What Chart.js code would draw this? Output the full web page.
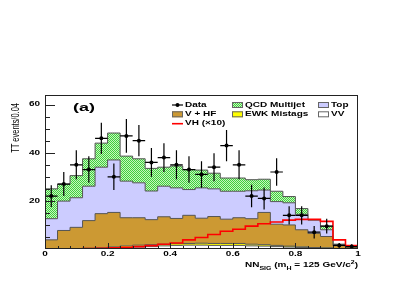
<!DOCTYPE html>
<html>
<head>
<meta charset="utf-8">
<script src="https://cdn.jsdelivr.net/npm/chart.js@4.4.0/dist/chart.umd.min.js"></script>
<style>
  html, body { margin: 0; padding: 0; background: #fff; }
  #wrap { width: 407px; height: 300px; }
</style>
</head>
<body>
<div id="wrap"><canvas id="c" width="407" height="300"></canvas></div>
<script>
'use strict';

// NN_SIG output, TT tag category, 25 bins of 0.04 (low edges)
const binLow = [0, 0.04, 0.08, 0.12, 0.16, 0.2, 0.24, 0.28, 0.32, 0.36, 0.4, 0.44, 0.48,
                0.52, 0.56, 0.6, 0.64, 0.68, 0.72, 0.76, 0.8, 0.84, 0.88, 0.92, 0.96];
const binWidth = 0.04;

// background components, bottom of the stack first
const vv    = [0, 0, 0, 0, 0.1, 0.3, 0.5, 0.8, 1.0, 1.3, 1.5, 1.6, 1.6, 1.5, 1.5, 1.5, 1.3, 1.2, 1.0, 0.8, 0.6, 0.4, 0.3, 0.1, 0.1];
const ewk   = [0.1, 0.2, 0.2, 0.3, 0.4, 0.6, 0.8, 0.8, 0.8, 0.7, 0.7, 0.7, 0.8, 0.8, 0.8, 0.8, 0.7, 0.6, 0.5, 0.4, 0.3, 0.2, 0.2, 0.1, 0.1];
const vhf   = [3.7, 7.5, 8.8, 11.5, 14.2, 14.3, 11.7, 11.4, 10.4, 11.4, 10.5, 11.7, 10.4, 11.2, 10.1, 10.7, 10.6, 13.4, 8.8, 8.8, 7.1, 5.9, 4.7, 1.2, 0.6];
const topq  = [8.8, 12.2, 12.3, 14.3, 19.3, 21.8, 15.2, 14.5, 11.9, 12.7, 12.7, 10.7, 12.6, 11.5, 11.6, 11.0, 11.6, 9.3, 9.4, 9.2, 6.4, 5.5, 2.8, 0.5, 0.3];
const qcd   = [12.4, 7.1, 9.2, 11.4, 10.0, 11.2, 10.4, 10.0, 9.4, 7.9, 9.1, 8.3, 7.4, 6.5, 5.5, 5.5, 4.6, 4.5, 4.3, 2.6, 2.4, 0, 1.5, 0.1, 0.1];

// VH signal scaled by 10
const vhx10 = [0, 0, 0.1, 0.2, 0.3, 0.5, 0.7, 1.0, 1.4, 2.0, 2.5, 3.8, 4.8, 6.0, 7.4, 8.2, 9.5, 10.5, 11.2, 12.0, 12.3, 12.3, 11.5, 3.8, 1.4];

// observed data and its uncertainty
const dataCounts = [22, 27, 35, 33, 46, 30, 47, 45, 36, 38, 35, 33, 31, 34, 43, 35, 22, 21, 32, 14, 14, 7, 9.5, 1.5, 1];
const dataErr    = [4.5, 5, 6, 5.5, 6.5, 5.5, 7, 6.5, 6, 6, 6, 5.5, 5.5, 5.8, 6.5, 6, 4.7, 4.6, 5.7, 3.8, 3.8, 2.6, 3.1, 1, 1];

const xTickLabels = ['0', '0.2', '0.4', '0.6', '0.8', '1'];
const yTickLabels = ['20', '40', '60'];

const $ = (id) => document.getElementById(id);
const ctx0 = $('c').getContext('2d');

// QCD gets the green checker fill
function makeChecker() {
  const c = document.createElement('canvas');
  c.width = 2; c.height = 2;
  const g = c.getContext('2d');
  g.fillStyle = '#c6f5bc'; g.fillRect(0, 0, 2, 2);
  g.fillStyle = '#3fcf3f'; g.fillRect(0, 0, 1, 1); g.fillRect(1, 1, 1, 1);
  return ctx0.createPattern(c, 'repeat');
}
const qcdFill = makeChecker();

// histogram as left-edge points plus closing point at the right edge
function steps(vals) {
  const pts = binLow.map((x, i) => ({ x, y: vals[i] }));
  pts.push({ x: binLow[binLow.length - 1] + binWidth, y: vals[vals.length - 1] });
  return pts;
}

function bkg(label, vals, fillStyle, fill) {
  return {
    label, data: steps(vals), stack: 'bkg', stepped: 'before', fill,
    backgroundColor: fillStyle, borderColor: '#555', borderWidth: 1, pointRadius: 0,
  };
}

const datasets = [
  { label: 'Data', data: binLow.map((x, i) => ({ x: x + binWidth / 2, y: dataCounts[i] })),
    stack: 'data', showLine: false, pointRadius: 2, pointBackgroundColor: '#000', pointBorderColor: '#000', borderWidth: 0 },
  { label: 'VH (\u00d710)', data: steps(vhx10), stack: 'sig', stepped: 'before', fill: false,
    borderColor: '#ff0000', borderWidth: 1.6, pointRadius: 0 },
  bkg('VV', vv, '#ffffff', 'origin'),
  bkg('EWK Mistags', ewk, '#ffff00', '-1'),
  bkg('V + HF', vhf, '#cc9933', '-1'),
  bkg('Top', topq, '#ccccff', '-1'),
  bkg('QCD Multijet', qcd, qcdFill, '-1'),
];

// text squeezed vertically like the reference
function sq(ctx, str, x, y, font, align, base) {
  ctx.save();
  ctx.translate(x, y);
  ctx.scale(1, 0.65);
  ctx.font = font;
  ctx.textAlign = align || 'left';
  ctx.textBaseline = base || 'middle';
  ctx.fillStyle = '#000';
  ctx.fillText(str, 0, 0);
  ctx.restore();
}

const decor = {
  id: 'decor',
  afterDatasetsDraw(chart) {
    const { ctx, chartArea: a, scales: { x, y } } = chart;

    // error bars
    ctx.save();
    ctx.beginPath(); ctx.rect(a.left, a.top, a.right - a.left, a.bottom - a.top); ctx.clip();
    ctx.strokeStyle = '#000'; ctx.lineWidth = 1.2;
    dataCounts.forEach((v, i) => {
      const cx = x.getPixelForValue(binLow[i] + binWidth / 2);
      const py = y.getPixelForValue(v);
      ctx.beginPath();
      ctx.moveTo(cx, y.getPixelForValue(v - dataErr[i]));
      ctx.lineTo(cx, y.getPixelForValue(v + dataErr[i]));
      ctx.moveTo(x.getPixelForValue(binLow[i]), py);
      ctx.lineTo(x.getPixelForValue(binLow[i] + binWidth), py);
      ctx.stroke();
    });
    ctx.restore();

    // frame and inward ticks
    ctx.save();
    ctx.strokeStyle = '#222'; ctx.lineWidth = 1;
    ctx.strokeRect(a.left + 0.5, a.top + 0.5, a.right - a.left - 1, a.bottom - a.top - 1);
    ctx.beginPath();
    for (let v = 5; v < y.max; v += 5) {
      const py = Math.round(y.getPixelForValue(v)) + 0.5;
      ctx.moveTo(a.left, py); ctx.lineTo(a.left + (v % 20 === 0 ? 10 : 5), py);
    }
    for (let k = 1; k < 25; k++) {
      const px = Math.round(x.getPixelForValue(k * 0.04)) + 0.5;
      ctx.moveTo(px, a.bottom); ctx.lineTo(px, a.bottom - (k % 5 === 0 ? 6 : 3));
    }
    ctx.stroke();
    ctx.restore();

    // tick labels
    const tf = 'bold 10px "Liberation Sans", Arial, sans-serif';
    xTickLabels.forEach(t => sq(ctx, t, x.getPixelForValue(parseFloat(t)), a.bottom + 5, tf, 'center'));
    yTickLabels.forEach(t => sq(ctx, t, a.left - 5, y.getPixelForValue(parseFloat(t)), tf, 'right'));

    // x title with sub/superscripts, right aligned to the frame
    const big = 'bold 10px "Liberation Sans", Arial, sans-serif';
    const small = 'bold 7px "Liberation Sans", Arial, sans-serif';
    const parts = [
      { t: 'NN', f: big, dy: 0 }, { t: 'SIG', f: small, dy: 4 }, { t: ' (m', f: big, dy: 0 },
      { t: 'H', f: small, dy: 5 }, { t: ' = 125 GeV/c', f: big, dy: 0 }, { t: '2', f: small, dy: -5 },
      { t: ')', f: big, dy: 0 },
    ];
    let w = 0;
    parts.forEach(p => { ctx.font = p.f; p.w = ctx.measureText(p.t).width; w += p.w; });
    let cx = a.right - w;
    parts.forEach(p => { sq(ctx, p.t, cx, 267 + p.dy * 0.65, p.f, 'left', 'alphabetic'); cx += p.w; });

    // y title, reads upward, ends at the top
    ctx.save();
    ctx.translate(19, 103);
    ctx.scale(1, 0.65);
    ctx.rotate(-Math.PI / 2);
    ctx.font = '11.5px "Liberation Sans", Arial, sans-serif';
    ctx.textAlign = 'right'; ctx.textBaseline = 'alphabetic'; ctx.fillStyle = '#000';
    ctx.fillText('TT events/0.04', 0, 0);
    ctx.restore();

    sq(ctx, '(a)', 73, 108, 'bold 18px "Liberation Sans", Arial, sans-serif', 'left');

    // legend, three columns
    const ds = chart.data.datasets;
    const cols = [172, 232, 318], rows = [105, 114.3, 123.7];
    const slots = [[0, 0, 0], [6, 1, 0], [5, 2, 0], [4, 0, 1], [3, 1, 1], [2, 2, 1], [1, 0, 2]];
    const lf = 'bold 10px "Liberation Sans", Arial, sans-serif';
    slots.forEach(([di, c, r]) => {
      const d = ds[di], lx = cols[c], ly = rows[r];
      ctx.save();
      if (di === 0) {
        ctx.strokeStyle = '#000'; ctx.lineWidth = 1.2;
        ctx.beginPath(); ctx.moveTo(lx, ly); ctx.lineTo(lx + 11, ly); ctx.stroke();
        ctx.fillStyle = '#000'; ctx.beginPath(); ctx.arc(lx + 5.5, ly, 2, 0, Math.PI * 2); ctx.fill();
      } else if (di === 1) {
        ctx.strokeStyle = d.borderColor; ctx.lineWidth = 1.6;
        ctx.beginPath(); ctx.moveTo(lx, ly); ctx.lineTo(lx + 11, ly); ctx.stroke();
      } else {
        ctx.fillStyle = d.backgroundColor; ctx.fillRect(lx, ly - 3, 11, 6);
        ctx.strokeStyle = '#666'; ctx.lineWidth = 1; ctx.strokeRect(lx + 0.5, ly - 2.5, 10, 5);
      }
      ctx.restore();
      sq(ctx, d.label, lx + 13, ly, lf, 'left');
    });
  },
};

new Chart($('c'), {
  type: 'line',
  data: { datasets },
  options: {
    responsive: false, animation: false, devicePixelRatio: 1,
    layout: { padding: { left: 0, top: 95, right: 49, bottom: 0 } },
    plugins: { legend: { display: false }, tooltip: { enabled: false } },
    scales: {
      x: {
        type: 'linear', min: 0, max: 1,
        ticks: { display: false, stepSize: 0.2 }, grid: { display: false }, border: { display: false },
        afterFit: (s) => { s.height = 51; },
      },
      y: {
        min: 0, max: 64, stacked: true,
        ticks: { display: false, stepSize: 20 }, grid: { display: false }, border: { display: false },
        afterFit: (s) => { s.width = 45; },
      },
    },
  },
  plugins: [decor],
});
</script>
</body>
</html>
